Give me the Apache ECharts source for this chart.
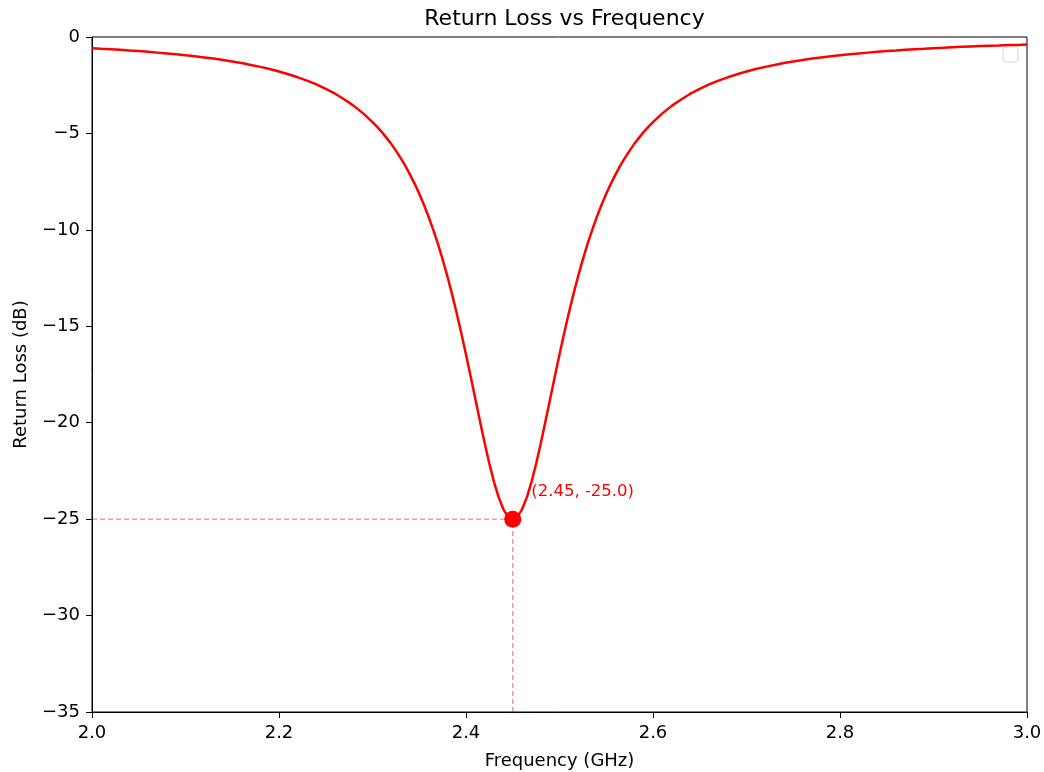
<!DOCTYPE html>
<html>
<head>
	<meta charset="utf-8">
	<title>Return Loss vs Frequency</title>
	<script src="https://cdn.jsdelivr.net/npm/echarts@6/dist/echarts.min.js"></script>
	<style>
		body { margin: 0; background: #fff; }
		#main { width: 1044px; height: 772px; }
	</style>
</head>
<body>
	<div id="main"></div>
	<script type="text/javascript">
		// values (GHz / dB)
		var freq = [
			2.00, 2.01, 2.02, 2.03, 2.04, 2.05, 2.06, 2.07, 2.08, 2.09,
			2.10, 2.11, 2.12, 2.13, 2.14, 2.15, 2.16, 2.17, 2.18, 2.19,
			2.20, 2.21, 2.22, 2.23, 2.24, 2.25, 2.26, 2.27, 2.28, 2.29,
			2.300, 2.305, 2.310, 2.315, 2.320, 2.325, 2.330, 2.335, 2.340, 2.345,
			2.350, 2.355, 2.360, 2.365, 2.370, 2.375, 2.380, 2.385, 2.390, 2.395,
			2.400, 2.405, 2.410, 2.415, 2.420, 2.425, 2.430, 2.435, 2.440, 2.445,
			2.450,
			2.455, 2.460, 2.465, 2.470, 2.475, 2.480, 2.485, 2.490, 2.495, 2.500,
			2.505, 2.510, 2.515, 2.520, 2.525, 2.530, 2.535, 2.540, 2.545, 2.550,
			2.555, 2.560, 2.565, 2.570, 2.575, 2.580, 2.585, 2.590, 2.595, 2.600,
			2.61, 2.62, 2.63, 2.64, 2.65, 2.66, 2.67, 2.68, 2.69, 2.70,
			2.71, 2.72, 2.73, 2.74, 2.75, 2.76, 2.77, 2.78, 2.79, 2.80,
			2.81, 2.82, 2.83, 2.84, 2.85, 2.86, 2.87, 2.88, 2.89, 2.90,
			2.91, 2.92, 2.93, 2.94, 2.95, 2.96, 2.97, 2.98, 2.99, 3.00
		];
		var loss = [
			-0.58, -0.61, -0.63, -0.66, -0.70, -0.73, -0.77, -0.81, -0.85, -0.90,
			-0.95, -1.00, -1.06, -1.12, -1.19, -1.27, -1.35, -1.45, -1.55, -1.66,
			-1.79, -1.93, -2.09, -2.26, -2.46, -2.69, -2.94, -3.24, -3.57, -3.96,
			-4.41, -4.66, -4.93, -5.23, -5.54, -5.89, -6.27, -6.67, -7.12, -7.60,
			-8.13, -8.70, -9.32, -10.00, -10.73, -11.53, -12.39, -13.32, -14.31, -15.36,
			-16.46, -17.60, -18.77, -19.93, -21.06, -22.13, -23.08, -23.88, -24.49, -24.87,
			-25.00,
			-24.87, -24.49, -23.88, -23.08, -22.13, -21.06, -19.93, -18.77, -17.60, -16.46,
			-15.36, -14.31, -13.32, -12.39, -11.53, -10.73, -10.00, -9.32, -8.70, -8.13,
			-7.60, -7.12, -6.67, -6.27, -5.89, -5.54, -5.23, -4.93, -4.66, -4.41,
			-3.96, -3.57, -3.24, -2.94, -2.69, -2.46, -2.26, -2.09, -1.93, -1.79,
			-1.66, -1.55, -1.45, -1.35, -1.27, -1.19, -1.12, -1.06, -1.00, -0.95,
			-0.90, -0.85, -0.81, -0.77, -0.73, -0.70, -0.66, -0.63, -0.61, -0.58,
			-0.56, -0.53, -0.51, -0.49, -0.47, -0.45, -0.44, -0.42, -0.41, -0.39
		];
		var minPoint = [2.45, -25.0];
		var xTicks = [2.0, 2.2, 2.4, 2.6, 2.8, 3.0];
		var yTicks = [0, -5, -10, -15, -20, -25, -30, -35];

		var font = 'DejaVu Sans';
		var lineData = [];
		for (var i = 0; i < freq.length; i++) {
			lineData.push([freq[i], loss[i]]);
		}
		var guideStyle = { color: 'rgba(255,0,0,0.6)', type: [5, 3], width: 1 };

		var myChart = echarts.init(document.getElementById('main'));
		myChart.setOption({
			animation: false,
			title: {
				text: 'Return Loss vs Frequency',
				left: 559.5,
				textAlign: 'center',
				top: 3,
				textStyle: { fontFamily: font, fontSize: 22, fontWeight: 'normal', color: '#000' }
			},
			grid: {
				left: 92, right: 17, top: 37, bottom: 60,
				outerBoundsMode: 'none',
				show: true, borderColor: '#000', borderWidth: 1
			},
			xAxis: {
				type: 'value',
				min: 2.0, max: 3.0, interval: 0.2,
				name: 'Frequency (GHz)',
				nameLocation: 'middle',
				nameGap: 40,
				nameTextStyle: { fontFamily: font, fontSize: 18, color: '#000' },
				axisLine: { onZero: false, lineStyle: { color: '#000' } },
				axisTick: { length: 6, lineStyle: { color: '#000' } },
				splitLine: { show: false },
				axisLabel: {
					fontFamily: font, fontSize: 18, color: '#000', margin: 12,
					formatter: function (v) { return v.toFixed(1); },
					customValues: xTicks
				}
			},
			yAxis: {
				type: 'value',
				min: -35, max: 0, interval: 5,
				name: 'Return Loss (dB)',
				nameLocation: 'middle',
				nameGap: 62,
				nameTextStyle: { fontFamily: font, fontSize: 18, color: '#000' },
				axisLine: { show: true, onZero: false, lineStyle: { color: '#000' } },
				axisTick: { show: true, length: 6, lineStyle: { color: '#000' } },
				splitLine: { show: false },
				axisLabel: {
					fontFamily: font, fontSize: 18, color: '#000', margin: 12,
					formatter: function (v) { return String(v).replace('-', '\u2212'); },
					customValues: yTicks
				}
			},
			graphic: [{
				// empty legend box
				type: 'rect',
				shape: { x: 1003, y: 47, width: 15, height: 15, r: 3 },
				style: { fill: '#fff', stroke: '#d6d6d6', lineWidth: 1 }
			}],
			series: [{
				type: 'line',
				data: lineData,
				showSymbol: false,
				lineStyle: { color: '#ff0000', width: 2.5 },
				itemStyle: { color: '#ff0000' },
				z: 2
			}, {
				type: 'line',
				data: [[2.0, minPoint[1]], minPoint],
				showSymbol: false,
				lineStyle: guideStyle,
				z: 1
			}, {
				type: 'line',
				data: [[minPoint[0], -35], minPoint],
				showSymbol: false,
				lineStyle: guideStyle,
				z: 1
			}, {
				type: 'scatter',
				data: [minPoint],
				symbolSize: 17,
				itemStyle: { color: '#ff0000', opacity: 1 },
				z: 4,
				label: {
					show: true,
					position: [27, -27],
					align: 'left',
					color: '#ff0000',
					fontFamily: font,
					fontSize: 16.5,
					formatter: '(2.45, -25.0)'
				}
			}]
		});
	</script>
</body>
</html>
